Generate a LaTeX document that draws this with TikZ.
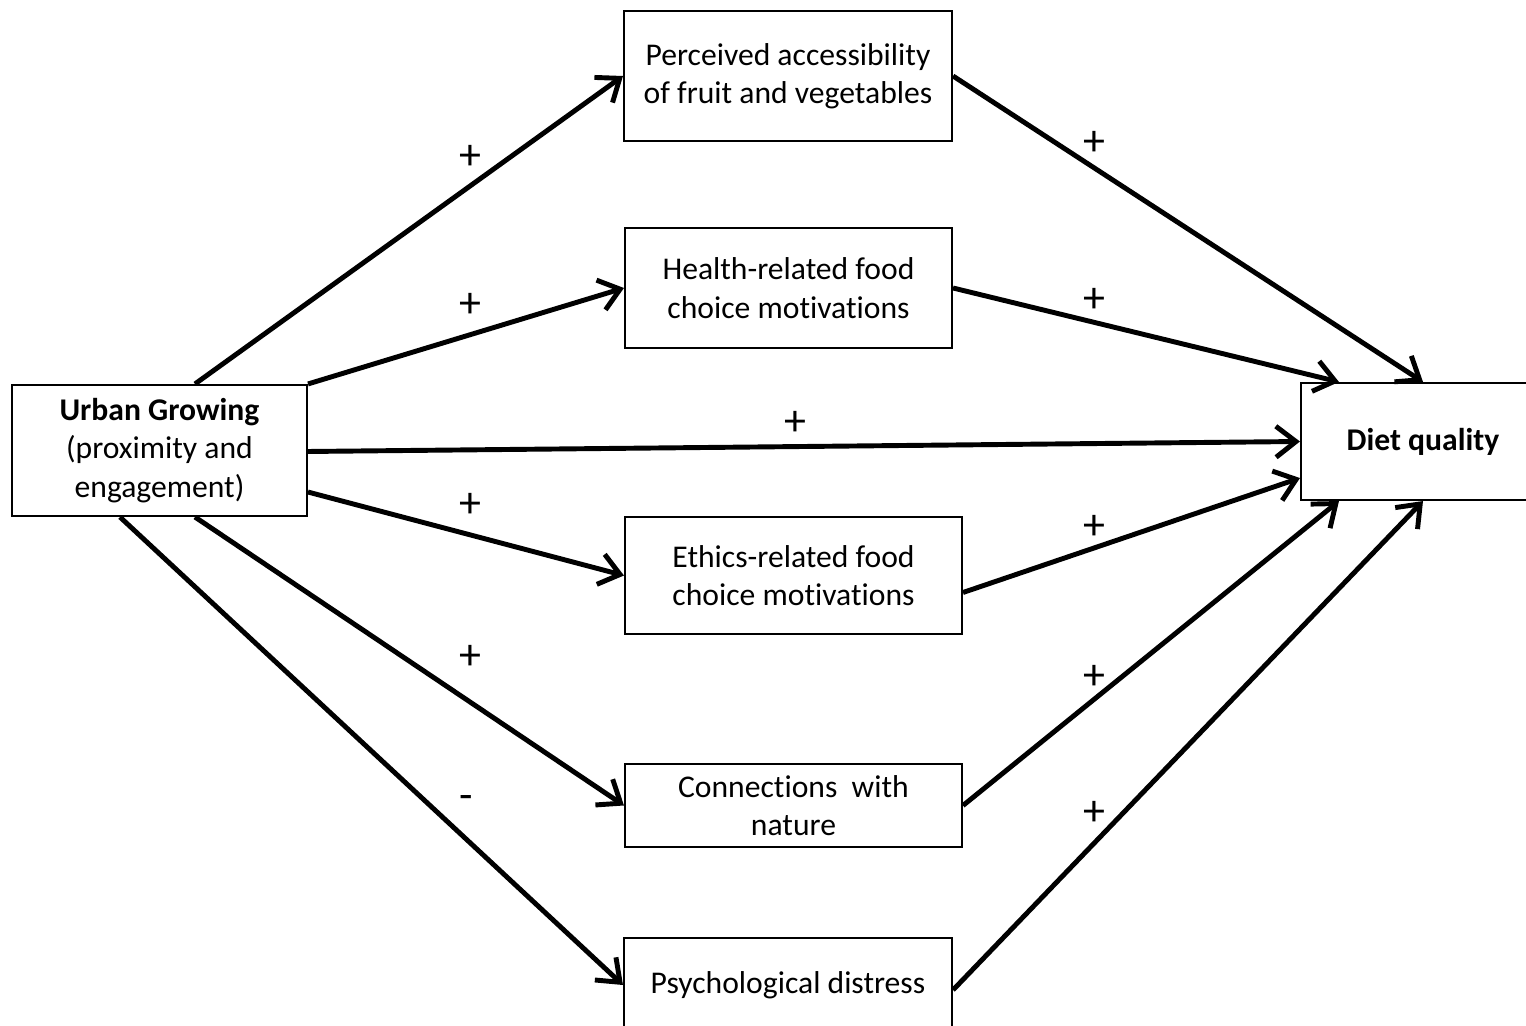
\documentclass[tikz,border=0pt]{standalone}
\usepackage{fontspec}
\setmainfont{Carlito}[Ligatures=NoCommon]
\usetikzlibrary{arrows.meta,calc}
\begin{document}
\begin{tikzpicture}[x=0.02cm,y=-0.02cm,
  box/.style={draw,line width=1.2pt,inner sep=0pt,align=center,font=\fontsize{18}{21.8}\selectfont},
  conn/.style={line width=2.8pt,-{Straight Barb[length=4mm,width=6.2mm,line width=2.8pt]}},
  sign/.style={font=\fontsize{25}{27}\selectfont}]
\clip (0,0) rectangle (1526,1026);
\useasboundingbox (0,0) rectangle (1526,1026);
\node[box,minimum width=5.9cm,minimum height=2.62cm] (ug) at (159.5,450.5) {\textbf{Urban Growing}\\(proximity and\\engagement)};
\node[box,minimum width=6.56cm,minimum height=2.6cm] (pa) at (788,76) {Perceived accessibility\\of fruit and vegetables};
\node[box,minimum width=6.54cm,minimum height=2.4cm] (hr) at (788.5,288) {Health-related food\\choice motivations};
\node[box,minimum width=6.74cm,minimum height=2.34cm] (er) at (793.5,575.5) {Ethics-related food\\choice motivations};
\node[box,minimum width=6.74cm,minimum height=1.66cm] (cn) at (793.5,805.5) {Connections\ \ with\\nature};
\node[box,minimum width=6.56cm,minimum height=1.88cm] (pd) at (788,985) {Psychological distress};
\node[box,minimum width=4.88cm,minimum height=2.34cm] (dq) at (1423,441.5) {\textbf{Diet quality}};
% left arrows
\draw[conn] ($(ug.north west)+(184,0)$) -- (pa.west);
\draw[conn] (ug.north east) -- (hr.west);
\draw[conn] ($(ug.east)+(0,1)$) -- (dq.west);
\draw[conn] ($(ug.south east)+(0,-25)$) -- (er.west);
\draw[conn] ($(ug.south west)+(184,0)$) -- (cn.west);
\draw[conn] ($(ug.south west)+(109,0)$) -- (pd.west);
% right arrows
\draw[conn] (pa.east) -- (dq.north);
\draw[conn] (hr.east) -- ($(dq.north west)+(39,0)$);
\draw[conn] ($(er.east)+(0,17)$) -- ($(dq.south west)+(0,-23)$);
\draw[conn] (cn.east) -- ($(dq.south west)+(39,0)$);
\draw[conn] ($(pd.east)+(0,5)$) -- (dq.south);
% signs
\node[sign] (s1) at (470,157) {+};
\node[sign] (s2) at (470,305) {+};
\node[sign] (s3) at (795,423) {+};
\node[sign] (s4) at (470,505) {+};
\node[sign] (s5) at (470,657) {+};
\node[sign] (s6) at (466,803) {-};
\node[sign] (s7) at (1094,143) {+};
\node[sign] (s8) at (1094,300) {+};
\node[sign] (s9) at (1094,527) {+};
\node[sign] (s10) at (1094,677) {+};
\node[sign] (s11) at (1094,813) {+};
\end{tikzpicture}
\end{document}
